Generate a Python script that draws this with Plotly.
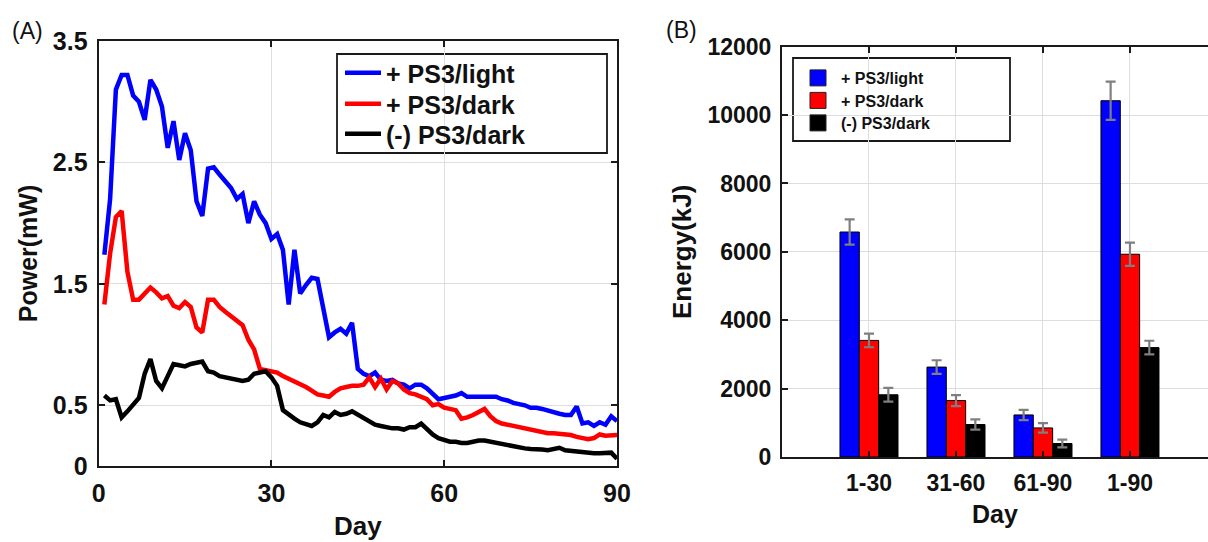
import plotly.graph_objects as go

# ---------------- Data: panel A (daily power, mW) ----------------
days = list(range(1, 91))

power_light = [1.74, 2.20, 3.10, 3.22, 3.22, 3.05, 3.00, 2.85, 3.18, 3.10,
               2.96, 2.62, 2.84, 2.52, 2.74, 2.60, 2.18, 2.06, 2.45, 2.46,
               2.40, 2.34, 2.29, 2.20, 2.24, 2.00, 2.18, 2.07, 2.00, 1.87,
               1.91, 1.78, 1.33, 1.78, 1.42, 1.49, 1.55, 1.54, 1.30, 1.06,
               1.10, 1.13, 1.09, 1.18, 0.80, 0.76, 0.74, 0.77, 0.71, 0.70,
               0.71, 0.68, 0.67, 0.64, 0.67, 0.67, 0.64, 0.60, 0.55, 0.56,
               0.57, 0.58, 0.60, 0.57, 0.57, 0.57, 0.57, 0.57, 0.57, 0.55,
               0.54, 0.52, 0.51, 0.50, 0.48, 0.48, 0.47, 0.455, 0.44, 0.43,
               0.42, 0.42, 0.49, 0.35, 0.36, 0.33, 0.36, 0.34, 0.41, 0.37]

power_dark = [1.33, 1.75, 2.05, 2.10, 1.60, 1.37, 1.37, 1.42, 1.47, 1.43,
              1.38, 1.40, 1.32, 1.30, 1.35, 1.31, 1.14, 1.10, 1.37, 1.37,
              1.31, 1.27, 1.23, 1.19, 1.16, 1.04, 0.96, 0.80, 0.79, 0.78,
              0.77, 0.74, 0.72, 0.70, 0.67, 0.65, 0.62, 0.59, 0.58, 0.57,
              0.61, 0.64, 0.65, 0.66, 0.66, 0.67, 0.73, 0.65, 0.72, 0.63,
              0.70, 0.68, 0.63, 0.60, 0.59, 0.57, 0.55, 0.50, 0.51, 0.48,
              0.47, 0.46, 0.39, 0.40, 0.42, 0.45, 0.47, 0.41, 0.37, 0.35,
              0.34, 0.33, 0.32, 0.31, 0.30, 0.29, 0.28, 0.27, 0.27, 0.265,
              0.26, 0.255, 0.24, 0.23, 0.22, 0.23, 0.26, 0.25, 0.25, 0.255]

power_ctrl = [0.58, 0.54, 0.55, 0.40, 0.45, 0.50, 0.56, 0.76, 0.88, 0.70,
              0.64, 0.74, 0.84, 0.83, 0.82, 0.84, 0.85, 0.86, 0.78, 0.77,
              0.74, 0.73, 0.72, 0.71, 0.70, 0.71, 0.76, 0.77, 0.78, 0.73,
              0.66, 0.46, 0.42, 0.39, 0.36, 0.34, 0.33, 0.36, 0.42, 0.40,
              0.445, 0.42, 0.43, 0.45, 0.42, 0.39, 0.36, 0.34, 0.33, 0.32,
              0.31, 0.31, 0.30, 0.32, 0.32, 0.35, 0.30, 0.26, 0.23, 0.21,
              0.20, 0.20, 0.19, 0.19, 0.20, 0.21, 0.21, 0.20, 0.19, 0.18,
              0.17, 0.16, 0.15, 0.145, 0.14, 0.14, 0.135, 0.13, 0.14, 0.15,
              0.13, 0.125, 0.12, 0.11, 0.11, 0.105, 0.105, 0.105, 0.11, 0.06]

# ---------------- Data: panel B (energy, kJ) ----------------
periods = ["1-30", "31-60", "61-90", "1-90"]
energy_light = [6580, 2630, 1230, 10420]
energy_dark = [3410, 1650, 850, 5930]
energy_ctrl = [1820, 950, 395, 3200]
err_light = [370, 200, 150, 560]
err_dark = [200, 160, 140, 340]
err_ctrl = [200, 150, 115, 200]

series_names = ["+ PS3/light", "+ PS3/dark", "(-) PS3/dark"]
colors = ["#0000ff", "#ff0000", "#000000"]

ya_ticks = [0, 0.5, 1.5, 2.5, 3.5]
ya_ticktext = ["0", "0.5", "1.5", "2.5", "3.5"]
xa_ticks = [0, 30, 60, 90]
yb_ticks = [0, 2000, 4000, 6000, 8000, 10000, 12000]
yb_ticktext = ["0", "2000", "4000", "6000", "8000", "10000", "12000"]

FONT = "Liberation Sans"
W, H = 1208, 542

# one legend per entry so each row can sit exactly where the reference has it
legend_ids_a = ["legend", "legend3", "legend4"]
legend_ids_b = ["legend2", "legend5", "legend6"]
rows_a = [73, 104, 134]      # px from top (row centres)
rows_b = [78, 100.5, 123]

fig = go.Figure()

# Panel A lines
for name, ys, c, lid in zip(series_names, [power_light, power_dark, power_ctrl],
                            colors, legend_ids_a):
    fig.add_trace(go.Scatter(
        x=days, y=ys, mode="lines", name=name,
        line=dict(color=c, width=4.5),
        xaxis="x", yaxis="y", legend=lid,
    ))

# Panel B bars
for name, vals, errs, c, lid in zip(series_names,
                                    [energy_light, energy_dark, energy_ctrl],
                                    [err_light, err_dark, err_ctrl], colors,
                                    legend_ids_b):
    fig.add_trace(go.Bar(
        x=periods, y=vals, name=name, showlegend=False,
        marker=dict(color=c, line=dict(color="#000000", width=1)),
        error_y=dict(type="data", array=errs, color="#7f7f7f",
                     thickness=2.2, width=5),
        xaxis="x2", yaxis="y2",
    ))
    # legend entry (square swatch) for panel B
    fig.add_trace(go.Scatter(
        x=[None], y=[None], mode="markers", name=name,
        marker=dict(symbol="square", size=16, color=c,
                    line=dict(color="#222222", width=1)),
        xaxis="x2", yaxis="y2", legend=lid,
    ))

axis_common = dict(
    showline=True, linecolor="#1a1a1a", linewidth=2, mirror="ticks",
    ticks="inside", ticklen=6, tickwidth=2, tickcolor="#1a1a1a",
    showgrid=True, gridcolor="#dedede", gridwidth=1.2,
    zeroline=False, automargin=False,
    tickfont=dict(family=FONT, size=25, color="#111111", weight="bold"),
)
tickfont_b = dict(family=FONT, size=23, color="#111111", weight="bold")

legends = {}
for lid, row in zip(legend_ids_a, rows_a):
    legends[lid] = dict(
        x=340 / W, y=1 - row / H, xanchor="left", yanchor="middle",
        bgcolor="rgba(0,0,0,0)", borderwidth=0,
        font=dict(family=FONT, size=25, color="#111111", weight="bold"),
        itemwidth=36, tracegroupgap=0,
    )
for lid, row in zip(legend_ids_b, rows_b):
    legends[lid] = dict(
        x=795 / W, y=1 - row / H, xanchor="left", yanchor="middle",
        bgcolor="rgba(0,0,0,0)", borderwidth=0,
        font=dict(family=FONT, size=16, color="#111111", weight="bold"),
        itemwidth=36, tracegroupgap=0,
    )

fig.update_layout(
    width=W, height=H,
    margin=dict(l=0, r=0, t=0, b=0, autoexpand=False),
    paper_bgcolor="white", plot_bgcolor="white",
    barmode="group", bargap=0.333, bargroupgap=0.0,
    xaxis=dict(
        domain=[98.6 / W, 617 / W], anchor="y",
        range=[0, 90], tickvals=xa_ticks,
        title=dict(text="Day", standoff=11,
                   font=dict(family=FONT, size=26, color="#111111", weight="bold")),
        ticklabelstandoff=4,
        **axis_common,
    ),
    yaxis=dict(
        domain=[1 - 466 / H, 1 - 41 / H], anchor="x",
        range=[0, 3.5], tickvals=ya_ticks, ticktext=ya_ticktext,
        title=dict(text="Power(mW)", standoff=8,
                   font=dict(family=FONT, size=25, color="#111111", weight="bold")),
        ticklabelstandoff=4,
        **axis_common,
    ),
    xaxis2=dict(
        domain=[782 / W, 1.0], anchor="y2",
        range=[-1, 3.897],
        title=dict(text="Day", standoff=11,
                   font=dict(family=FONT, size=25, color="#111111", weight="bold")),
        ticklabelstandoff=4,
        **{**axis_common, "tickfont": tickfont_b},
    ),
    yaxis2=dict(
        domain=[1 - 457 / H, 1 - 46.7 / H], anchor="x2",
        range=[0, 12000], tickvals=yb_ticks, ticktext=yb_ticktext,
        title=dict(text="Energy(kJ)", standoff=8,
                   font=dict(family=FONT, size=26, color="#111111", weight="bold")),
        ticklabelstandoff=4,
        **{**axis_common, "tickfont": tickfont_b, "mirror": False},
    ),
    shapes=[
        # legend frames
        dict(type="rect", xref="paper", yref="paper", layer="below",
             x0=337 / W, x1=607 / W, y0=1 - 153 / H, y1=1 - 54 / H,
             line=dict(color="#1a1a1a", width=1.8), fillcolor="white"),
        dict(type="rect", xref="paper", yref="paper", layer="below",
             x0=793 / W, x1=1010 / W, y0=1 - 141 / H, y1=1 - 58 / H,
             line=dict(color="#1a1a1a", width=1.8), fillcolor="white"),
    ],
    annotations=[
        dict(text="(A)", x=10 / W, y=1 - 31 / H, xref="paper", yref="paper",
             xanchor="left", yanchor="middle", showarrow=False,
             font=dict(family=FONT, size=23, color="#111111")),
        dict(text="(B)", x=664 / W, y=1 - 30 / H, xref="paper", yref="paper",
             xanchor="left", yanchor="middle", showarrow=False,
             font=dict(family=FONT, size=23, color="#111111")),
    ],
    **legends,
)

fig.write_html(
    "out.html",
    config={"displayModeBar": False},
    post_script="document.body.style.margin='0';document.body.style.overflow='hidden';",
)
